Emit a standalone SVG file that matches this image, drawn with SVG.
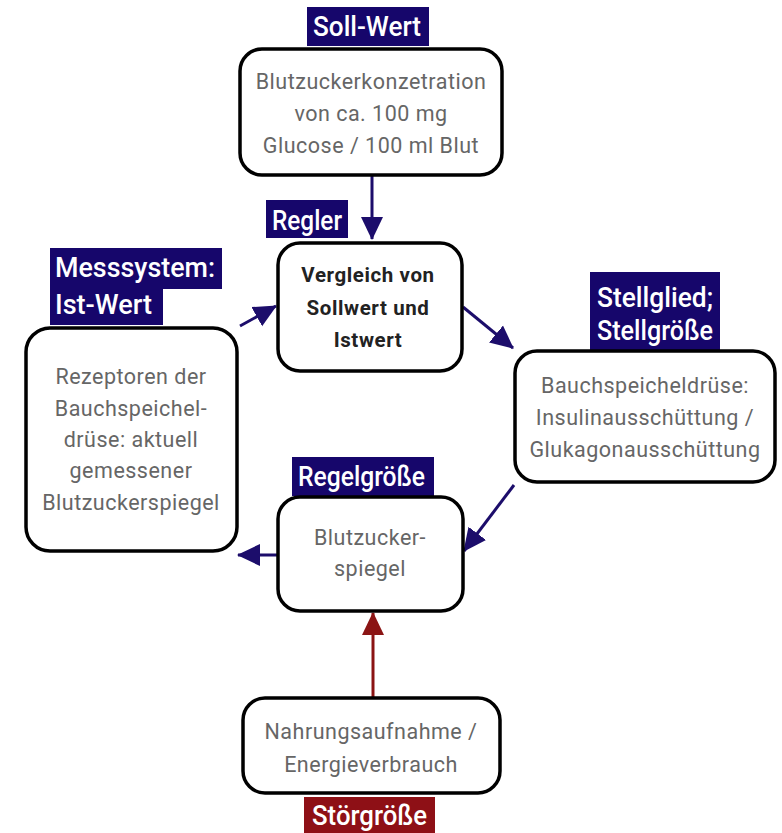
<svg xmlns="http://www.w3.org/2000/svg" width="782" height="833" viewBox="0 0 782 833">
  <style>
    .box { fill: #ffffff; stroke: #000000; stroke-width: 3.5; }
    .txt { font-family: Roboto, "Liberation Sans", sans-serif; font-size: 21.5px; fill: #666666; text-anchor: middle; letter-spacing: 0.5px; }
    .bold { font-family: Roboto, "Liberation Sans", sans-serif; font-size: 20.5px; font-weight: bold; fill: #222222; text-anchor: middle; letter-spacing: 0.6px; }
    .tag { fill: #16066b; }
    .tag-red { fill: #8e1016; }
    .tagtxt { font-family: Roboto, "Liberation Sans", sans-serif; font-size: 27px; font-weight: 500; fill: #ffffff; }
    .conn { stroke: #1c0d6b; stroke-width: 3; fill: none; }
    .conn-red { stroke: #8b1414; stroke-width: 3; fill: none; }
  </style>
  <defs>
    <marker id="head" markerUnits="userSpaceOnUse" markerWidth="24" markerHeight="24" viewBox="0 0 24 24" refX="22" refY="12" orient="auto">
      <path d="M0,1 L23,12 L0,23 Z" fill="#1c0d6b"/>
    </marker>
    <marker id="head-red" markerUnits="userSpaceOnUse" markerWidth="24" markerHeight="24" viewBox="0 0 24 24" refX="22" refY="12" orient="auto">
      <path d="M0,1 L23,12 L0,23 Z" fill="#8b1414"/>
    </marker>
  </defs>

  <rect width="782" height="833" fill="#ffffff"/>

  <!-- connectors -->
  <g id="connectors">
    <line class="conn" x1="372" y1="176" x2="372" y2="239" marker-end="url(#head)"/>
    <line class="conn" x1="463" y1="307" x2="513" y2="348" marker-end="url(#head)"/>
    <line class="conn" x1="514" y1="485" x2="464" y2="551" marker-end="url(#head)"/>
    <line class="conn" x1="277" y1="555" x2="238" y2="555" marker-end="url(#head)"/>
    <line class="conn" x1="240" y1="326" x2="276" y2="306" marker-end="url(#head)"/>
    <line class="conn-red" x1="373" y1="697" x2="373" y2="613" marker-end="url(#head-red)"/>
  </g>

  <!-- set point -->
  <g id="sollwert">
    <rect class="tag" x="307" y="7" width="122" height="39"/>
    <text class="tagtxt" x="313" y="36" textLength="108" lengthAdjust="spacingAndGlyphs">Soll-Wert</text>
    <rect class="box" x="240" y="49" width="262" height="126" rx="22"/>
    <text class="txt" x="371" y="89">Blutzuckerkonzetration</text>
    <text class="txt" x="371" y="121">von ca. 100 mg</text>
    <text class="txt" x="371" y="153">Glucose / 100 ml Blut</text>
  </g>

  <!-- controller -->
  <g id="regler">
    <rect class="tag" x="266" y="200" width="82" height="38"/>
    <text class="tagtxt" x="272" y="230" textLength="70" lengthAdjust="spacingAndGlyphs">Regler</text>
    <rect class="box" x="278" y="243" width="184" height="128" rx="22"/>
    <text class="bold" x="368" y="282">Vergleich von</text>
    <text class="bold" x="368" y="315">Sollwert und</text>
    <text class="bold" x="368" y="347">Istwert</text>
  </g>

  <!-- measuring system -->
  <g id="messsystem">
    <rect class="tag" x="50" y="248" width="172" height="41"/>
    <rect class="tag" x="50" y="288" width="113" height="37"/>
    <text class="tagtxt" x="55" y="277" textLength="160" lengthAdjust="spacingAndGlyphs">Messsystem:</text>
    <text class="tagtxt" x="55" y="314" textLength="97" lengthAdjust="spacingAndGlyphs">Ist-Wert</text>
    <rect class="box" x="26" y="328" width="211" height="223" rx="24"/>
    <text class="txt" x="131" y="384">Rezeptoren der</text>
    <text class="txt" x="131" y="416">Bauchspeichel-</text>
    <text class="txt" x="131" y="447">drüse: aktuell</text>
    <text class="txt" x="131" y="478">gemessener</text>
    <text class="txt" x="131" y="510">Blutzuckerspiegel</text>
  </g>

  <!-- actuator -->
  <g id="stellglied">
    <rect class="tag" x="590" y="272" width="130" height="78"/>
    <text class="tagtxt" x="597" y="307" textLength="116" lengthAdjust="spacingAndGlyphs">Stellglied;</text>
    <text class="tagtxt" x="597" y="340" textLength="116" lengthAdjust="spacingAndGlyphs">Stellgröße</text>
    <rect class="box" x="515" y="351" width="260" height="131" rx="22"/>
    <text class="txt" x="645" y="393">Bauchspeicheldrüse:</text>
    <text class="txt" x="645" y="425">Insulinausschüttung /</text>
    <text class="txt" x="645" y="457">Glukagonausschüttung</text>
  </g>

  <!-- controlled variable -->
  <g id="regelgroesse">
    <rect class="tag" x="292" y="457" width="142" height="39"/>
    <text class="tagtxt" x="298" y="486" textLength="127" lengthAdjust="spacingAndGlyphs">Regelgröße</text>
    <rect class="box" x="278" y="497" width="185" height="114" rx="22"/>
    <text class="txt" x="370" y="545">Blutzucker-</text>
    <text class="txt" x="370" y="576">spiegel</text>
  </g>

  <!-- disturbance -->
  <g id="stoergroesse">
    <rect class="box" x="243" y="698" width="257" height="95" rx="22"/>
    <text class="txt" x="371" y="739">Nahrungsaufnahme /</text>
    <text class="txt" x="371" y="772">Energieverbrauch</text>
    <rect class="tag-red" x="304" y="797" width="131" height="36"/>
    <text class="tagtxt" x="312" y="825" textLength="115" lengthAdjust="spacingAndGlyphs">Störgröße</text>
  </g>
</svg>
